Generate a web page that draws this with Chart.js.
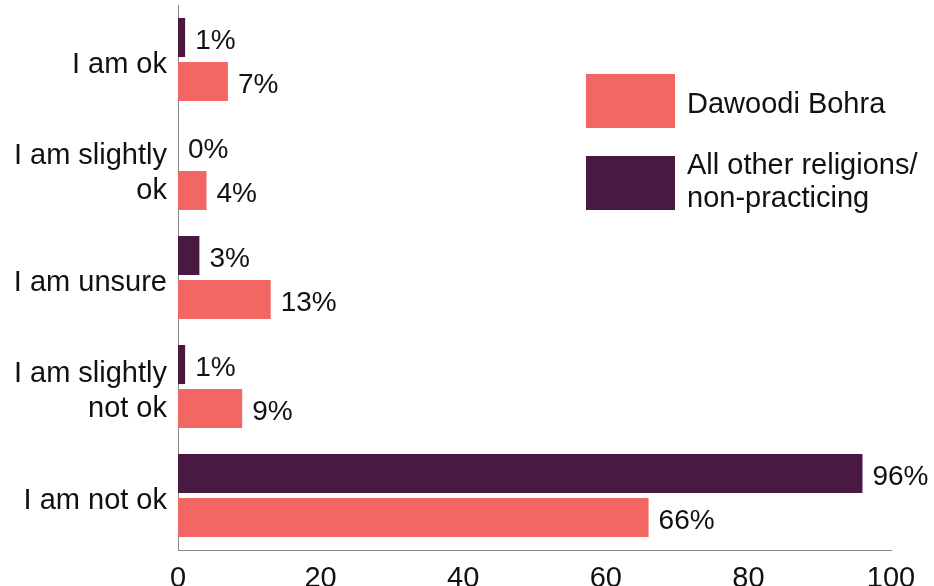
<!DOCTYPE html>
<html>
<head>
<meta charset="utf-8">
<script src="https://cdn.jsdelivr.net/npm/chart.js@4/dist/chart.umd.min.js"></script>
<style>
  html, body { margin: 0; padding: 0; background: #fff; }
  #wrap { position: relative; width: 934px; height: 586px; }
</style>
</head>
<body>
<div id="wrap"><canvas id="c" width="934" height="586"></canvas></div>
<script>
const categories = ['I am ok', ['I am slightly', 'ok'], 'I am unsure', ['I am slightly', 'not ok'], 'I am not ok'];
const dawoodiBohra = [7, 4, 13, 9, 66];
const allOther = [1, 0, 3, 1, 96];
const xTicks = [0, 20, 40, 60, 80, 100];
const seriesNames = ['Dawoodi Bohra', ['All other religions/', 'non-practicing']];

const PINK = '#F26664';
const PURPLE = '#4A1942';
const FONT = "'Liberation Sans', Arial, Helvetica, sans-serif";

const valueLabels = {
  id: 'valueLabels',
  afterDatasetsDraw(chart) {
    const ctx = chart.ctx;
    ctx.save();
    ctx.font = '28px ' + FONT;
    ctx.fillStyle = '#111';
    ctx.textAlign = 'left';
    ctx.textBaseline = 'middle';
    chart.data.datasets.forEach((ds, di) => {
      const meta = chart.getDatasetMeta(di);
      meta.data.forEach((el, i) => {
        ctx.fillText(ds.data[i] + '%', el.x + 10, el.y + 4);
      });
    });
    ctx.restore();
  }
};

const customLegend = {
  id: 'customLegend',
  afterDraw(chart) {
    const ctx = chart.ctx;
    ctx.save();
    const entries = [
      { color: chart.data.datasets[1].backgroundColor, text: seriesNames[0], y: 74, textY: [105] },
      { color: chart.data.datasets[0].backgroundColor, text: seriesNames[1], y: 156, textY: [166, 199] }
    ];
    ctx.font = '29px ' + FONT;
    ctx.textAlign = 'left';
    ctx.textBaseline = 'middle';
    entries.forEach(e => {
      ctx.fillStyle = e.color;
      ctx.fillRect(586, e.y, 89, 54);
      ctx.fillStyle = '#111';
      const lines = Array.isArray(e.text) ? e.text : [e.text];
      lines.forEach((ln, k) => {
        ctx.fillText(ln, 687, e.textY[k]);
      });
    });
    ctx.restore();
  }
};

new Chart(document.getElementById('c'), {
  type: 'bar',
  data: {
    labels: categories,
    datasets: [
      { label: 'All other religions/ non-practicing', data: allOther, backgroundColor: PURPLE,
        barPercentage: 0.886, categoryPercentage: 0.807 },
      { label: 'Dawoodi Bohra', data: dawoodiBohra, backgroundColor: PINK,
        barPercentage: 0.886, categoryPercentage: 0.807 }
    ]
  },
  options: {
    indexAxis: 'y',
    responsive: false,
    animation: false,
    events: [],
    layout: { padding: { top: 5, right: 43, bottom: 0, left: 0 } },
    plugins: { legend: { display: false }, tooltip: { enabled: false }, title: { display: false } },
    scales: {
      x: {
        min: 0, max: 100,
        afterBuildTicks(scale) { scale.ticks = xTicks.map(v => ({ value: v })); },
        grid: { display: false, drawTicks: false },
        border: { display: true, color: '#8a8a8a', width: 1 },
        ticks: { color: '#111', font: { family: FONT, size: 29 }, padding: 12, maxRotation: 0 },
        afterFit(scale) { scale.height = 36; scale.paddingLeft = 0; scale.paddingRight = 0; }
      },
      y: {
        grid: { display: false, drawTicks: false },
        border: { display: true, color: '#8a8a8a', width: 1 },
        ticks: { color: '#111', font: { family: FONT, size: 29, lineHeight: 1.2 }, padding: 11, crossAlign: 'near', labelOffset: 5 },
        afterFit(scale) { scale.width = 178; scale.paddingTop = 0; scale.paddingBottom = 0; }
      }
    }
  },
  plugins: [valueLabels, customLegend]
});
</script>
</body>
</html>
